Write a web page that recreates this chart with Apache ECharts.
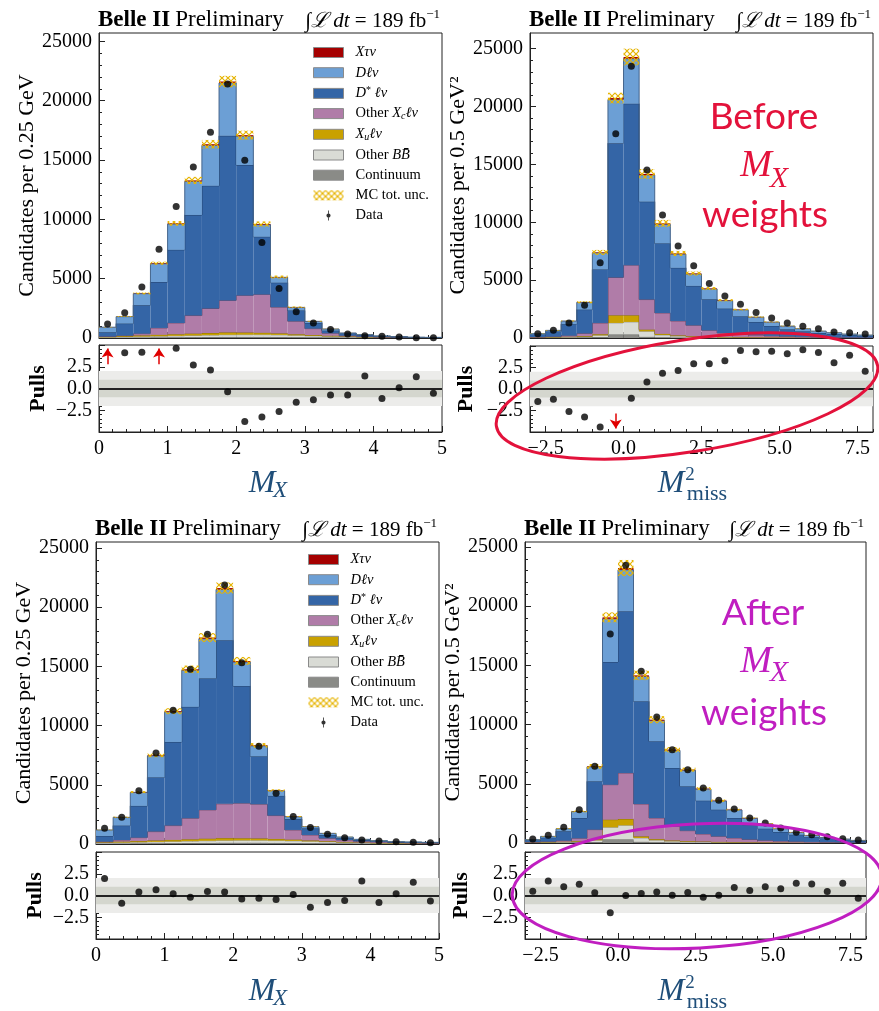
<!DOCTYPE html>
<html>
<head>
<meta charset="utf-8">
<script src="https://cdn.jsdelivr.net/npm/echarts@6/dist/echarts.min.js"></script>
<style>
  html, body { margin: 0; padding: 0; background: #fff; }
  #main { width: 879px; height: 1011px; }
</style>
</head>
<body>
<div id="main"></div>
<script>
// bin edges and tick labels
const mxEdges = [0, 0.25, 0.5, 0.75, 1, 1.25, 1.5, 1.75, 2, 2.25, 2.5, 2.75, 3, 3.25, 3.5, 3.75, 4, 4.25, 4.5, 4.75, 5];
const mmEdges = [-3, -2.5, -2, -1.5, -1, -0.5, 0, 0.5, 1, 1.5, 2, 2.5, 3, 3.5, 4, 4.5, 5, 5.5, 6, 6.5, 7, 7.5, 8];
const mmTicks = [-2.5, 0, 2.5, 5, 7.5];
const yTicks = [0, 5000, 10000, 15000, 20000, 25000];
const pullTicks = [-2.5, 0, 2.5];

// M_X, before weights
const mxB_cont = [20, 30, 40, 50, 60, 70, 80, 90, 90, 90, 80, 70, 60, 50, 40, 30, 20, 15, 10, 5];
const mxB_bb   = [40, 60, 80, 100, 120, 140, 160, 180, 190, 190, 180, 150, 120, 90, 60, 40, 30, 20, 10, 10];
const mxB_xu   = [60, 80, 100, 120, 140, 160, 180, 200, 180, 160, 130, 100, 70, 50, 40, 20, 10, 10, 5, 5];
const mxB_xc   = [10, 30, 147, 577, 951, 1523, 2066, 2694, 3128, 3232, 2209, 1092, 541, 210, 60, 30, 20, 10, 5, 5];
const mxB_dst  = [360, 1015, 2401, 3871, 6159, 8475, 10340, 13871, 10989, 4860, 2062, 905, 480, 221, 180, 130, 70, 40, 25, 20];
const mxB_d    = [419, 583, 969, 1542, 2171, 2829, 3403, 4456, 2424, 1023, 451, 262, 131, 137, 41, 30, 19, 9, 5, 5];
const mxB_tau  = [5, 10, 20, 40, 60, 80, 100, 120, 90, 50, 30, 20, 10, 5, 3, 2, 1, 1, 0, 0];
const mxB_unc  = [20, 40, 80, 130, 200, 300, 360, 480, 380, 220, 120, 60, 35, 20, 10, 8, 5, 3, 2, 2];
const mxB_data = [1187, 2119, 4294, 7486, 11074, 14408, 17346, 21413, 14973, 8051, 4181, 2204, 1271, 706, 339, 198, 141, 85, 28, 28];
const mxB_pull = [5.1, 4.12, 4.17, 6.0, 4.62, 2.69, 2.12, -0.38, -3.78, -3.29, -2.65, -1.59, -1.29, -0.76, -0.76, 1.44, -1.14, 0.08, 1.36, -0.56];
const mxB_arrows = [[0.125, 2.8, 4.6], [0.875, 2.8, 4.6]];

// M_miss^2, before weights
const mmB_cont = [20, 30, 40, 60, 80, 300, 300, 100, 60, 40, 30, 25, 20, 15, 10, 10, 8, 6, 5, 5, 4, 3];
const mmB_bb   = [30, 40, 50, 70, 150, 1000, 1086, 477, 200, 120, 80, 60, 45, 35, 30, 25, 20, 15, 12, 10, 8, 6];
const mmB_xu   = [10, 15, 20, 40, 100, 663, 577, 145, 100, 70, 50, 40, 30, 25, 20, 15, 10, 8, 6, 5, 4, 3];
const mmB_xc   = [20, 35, 90, 230, 969, 3263, 4331, 2598, 1805, 1242, 937, 539, 338, 243, 190, 130, 102, 71, 57, 40, 34, 28];
const mmB_dst  = [220, 440, 1000, 2054, 4619, 11606, 13944, 8459, 6005, 4591, 3407, 2685, 2108, 1559, 1136, 859, 611, 477, 353, 290, 210, 160];
const mmB_d    = [73, 100, 264, 620, 1433, 3777, 3892, 2296, 1652, 1181, 1018, 884, 691, 552, 413, 332, 276, 221, 165, 106, 81, 56];
const mmB_tau  = [2, 4, 8, 15, 40, 120, 150, 100, 80, 60, 50, 40, 30, 25, 20, 15, 12, 10, 8, 6, 5, 4];
const mmB_unc  = [15, 25, 45, 90, 220, 460, 720, 420, 300, 220, 170, 130, 100, 75, 55, 45, 35, 25, 20, 15, 12, 10];
const mmB_data = [375, 664, 1299, 2829, 6496, 17640, 23472, 14522, 10624, 7939, 6236, 4706, 3638, 2916, 2194, 1732, 1299, 1010, 808, 520, 462, 346];
const mmB_pull = [-1.46, -1.19, -2.61, -3.26, -4.41, -6.0, -1.08, 0.80, 1.84, 2.14, 2.95, 2.95, 3.29, 4.48, 4.32, 4.40, 4.09, 4.55, 4.25, 3.06, 3.91, 2.07];
const mmB_arrows = [[-0.25, -2.85, -4.6]];

// M_X, after weights
const mxA_cont = [30, 40, 50, 60, 70, 80, 90, 100, 100, 100, 90, 80, 70, 60, 50, 40, 30, 25, 20, 15];
const mxA_bb   = [60, 80, 100, 120, 140, 160, 180, 200, 210, 210, 200, 180, 150, 120, 90, 60, 45, 35, 25, 20];
const mxA_xu   = [60, 80, 100, 120, 140, 160, 180, 200, 180, 160, 140, 110, 80, 60, 40, 25, 15, 10, 5, 5];
const mxA_xc   = [50, 140, 287, 745, 1204, 1775, 2431, 2890, 2956, 2892, 1971, 817, 463, 240, 160, 105, 80, 60, 50, 40];
const mxA_dst  = [478, 1214, 2684, 4577, 7062, 9408, 11103, 13814, 9888, 4039, 1667, 932, 565, 283, 160, 110, 60, 40, 40, 30];
const mxA_d    = [504, 696, 1138, 1824, 2539, 3084, 3346, 4287, 2029, 883, 422, 178, 131, 136, 90, 54, 52, 27, 30, 31];
const mxA_tau  = [5, 10, 20, 40, 60, 80, 100, 120, 90, 50, 30, 20, 10, 5, 3, 2, 1, 1, 0, 0];
const mxA_unc  = [25, 50, 90, 160, 250, 320, 380, 470, 340, 190, 100, 50, 30, 20, 12, 8, 6, 4, 3, 3];
const mxA_data = [1328, 2260, 4492, 7684, 11300, 14747, 17712, 21865, 15312, 8249, 4294, 2317, 1384, 819, 537, 339, 254, 198, 141, 113];
const mxA_pull = [1.94, -0.89, 0.39, 0.66, 0.19, -0.19, 0.47, 0.39, -0.39, -0.31, -0.47, 0.12, -1.36, -0.81, -0.58, 1.67, -0.81, 0.19, 1.51, -0.62];

// M_miss^2, after weights
const mmA_cont = [20, 30, 40, 60, 80, 300, 300, 100, 60, 40, 30, 25, 20, 15, 10, 10, 8, 6, 5, 5, 4, 3];
const mmA_bb   = [30, 40, 50, 70, 150, 1023, 1192, 322, 180, 110, 80, 60, 45, 35, 30, 25, 20, 15, 12, 10, 8, 6];
const mmA_xu   = [10, 15, 20, 40, 100, 647, 535, 141, 90, 65, 50, 40, 30, 25, 20, 15, 10, 8, 6, 5, 4, 3];
const mmA_xc   = [20, 35, 90, 230, 800, 2956, 3884, 2731, 1781, 1193, 882, 635, 468, 347, 240, 170, 122, 91, 67, 50, 39, 28];
const mmA_dst  = [150, 330, 800, 1711, 4078, 10359, 13653, 8670, 6475, 4926, 3744, 2815, 2252, 1689, 1248, 990, 769, 580, 410, 310, 215, 140];
const mmA_d    = [50, 109, 202, 548, 1226, 3652, 3509, 2095, 1750, 1488, 1357, 974, 730, 679, 543, 408, 269, 191, 139, 93, 63, 41];
const mmA_tau  = [2, 4, 8, 15, 40, 120, 150, 100, 80, 60, 50, 40, 30, 25, 20, 15, 12, 10, 8, 6, 5, 4];
const mmA_unc  = [10, 20, 40, 80, 200, 420, 680, 400, 300, 220, 170, 130, 100, 75, 55, 45, 35, 25, 20, 15, 12, 10];
const mmA_data = [338, 647, 1323, 2815, 6474, 17650, 23448, 14497, 10641, 7882, 6193, 4645, 3604, 2871, 2111, 1689, 1267, 901, 704, 535, 366, 253];
const mmA_pull = [0.50, 1.67, 1.01, 1.28, 0.31, -1.98, 0.0, 0.23, 0.39, 0.04, 0.35, -0.19, 0.04, 0.93, 0.58, 1.01, 0.78, 1.40, 1.32, 0.47, 1.40, -0.31];

const SERIF = '"Liberation Serif", "DejaVu Serif", serif';

// stack order, bottom to top
const comps = [
  { key: 'cont', name: 'Continuum',  fill: '#8a8b87', edge: '#5d5e5a' },
  { key: 'bb',   name: 'Other BB̄',   fill: '#d9dbd5', edge: '#9d9f99' },
  { key: 'xu',   name: 'Xuℓν',       fill: '#c9a100', edge: '#8a6f00' },
  { key: 'xc',   name: 'Other Xcℓν', fill: '#b07ca8', edge: '#6e4a68' },
  { key: 'dst',  name: 'D*ℓν',       fill: '#3465a6', edge: '#22406a' },
  { key: 'd',    name: 'Dℓν',        fill: '#6c9fd5', edge: '#45658c' },
  { key: 'tau',  name: 'Xτν',        fill: '#a50000', edge: null }
];

// gold cross-hatch for the MC uncertainty
const hatchCanvas = document.createElement('canvas');
hatchCanvas.width = 6; hatchCanvas.height = 6;
const hctx = hatchCanvas.getContext('2d');
hctx.strokeStyle = '#e6b400';
hctx.lineWidth = 1.2;
hctx.beginPath();
hctx.moveTo(0, 0); hctx.lineTo(6, 6);
hctx.moveTo(6, 0); hctx.lineTo(0, 6);
hctx.stroke();
const hatch = { image: hatchCanvas, repeat: 'repeat' };

const option = {
  animation: false,
  grid: [], xAxis: [], yAxis: [], series: [], title: [], legend: [], graphic: []
};

function labelStyle() { return { color: '#000', fontFamily: SERIF, fontSize: 20, margin: 7 }; }
function axLine() { return { color: '#222', width: 1 }; }

function fmtNum(v) {
  const s = Math.abs(v).toFixed(1);
  return v < 0 ? '\u2212' + s : s;
}

function range(a, b, step) {
  const out = [];
  for (let v = a; v <= b + 1e-9; v += step) out.push(Math.round(v * 1000) / 1000);
  return out;
}

function addXAxes(gridIndex, isMx, withLabels) {
  if (isMx) {
    option.xAxis.push({
      gridIndex, type: 'value', min: 0, max: 5, interval: 1, position: 'bottom',
      splitLine: { show: false },
      axisLine: { show: true, onZero: false, lineStyle: axLine() },
      axisTick: { show: true, inside: true, length: 6, lineStyle: axLine() },
      minorTick: { show: true, splitNumber: 5, length: 3, lineStyle: axLine() },
      axisLabel: withLabels ? Object.assign({ formatter: v => String(v) }, labelStyle()) : { show: false }
    });
    return option.xAxis.length - 1;
  }
  option.xAxis.push({
    gridIndex, type: 'value', min: -3, max: 8, position: 'bottom',
    splitLine: { show: false },
    axisLine: { show: true, onZero: false, lineStyle: axLine() },
    axisTick: { show: true, inside: true, length: 6, customValues: mmTicks, lineStyle: axLine() },
    axisLabel: withLabels ? Object.assign({ customValues: mmTicks, formatter: fmtNum }, labelStyle()) : { show: false }
  });
  const idx = option.xAxis.length - 1;
  // minor ticks every 0.5
  option.xAxis.push({
    gridIndex, type: 'value', min: -3, max: 8, position: 'bottom',
    splitLine: { show: false },
    axisLine: { show: false, onZero: false },
    axisTick: { show: true, inside: true, length: 3, customValues: range(-3, 8, 0.5), lineStyle: axLine() },
    axisLabel: { show: false }
  });
  return idx;
}

// one custom series per component: filled bin + stepped top outline
function histSeries(name, edges, lo, hi, fill, edge, xi, yi) {
  const rows = lo.map((l, i) => [edges[i], edges[i + 1], l, hi[i], i > 0 ? hi[i - 1] : hi[i]]);
  return {
    type: 'custom', name, xAxisIndex: xi, yAxisIndex: yi, data: rows,
    encode: { x: [0, 1], y: [2, 3] }, color: fill, silent: true, z: 2, clip: true,
    renderItem: (params, api) => {
      const a = api.coord([api.value(0), api.value(3)]);
      const b = api.coord([api.value(1), api.value(2)]);
      const prev = api.coord([api.value(0), api.value(4)]);
      const children = [{
        type: 'rect', shape: { x: a[0], y: a[1], width: b[0] - a[0], height: b[1] - a[1] },
        style: { fill, stroke: null }
      }];
      if (edge) {
        children.push({
          type: 'polyline', shape: { points: [[a[0], prev[1]], [a[0], a[1]], [b[0], a[1]]] },
          style: { stroke: edge, lineWidth: 1, fill: null }
        });
      }
      return { type: 'group', children };
    }
  };
}

function gridBox(r) {
  return { left: r[0], top: r[1], width: r[2], height: r[3], show: true, borderColor: '#222', borderWidth: 1,
    containLabel: false, outerBoundsMode: 'none' };
}

function addPanel(p) {
  const isMx = p.edges === mxEdges;
  const centers = p.edges.slice(0, -1).map((e, i) => (e + p.edges[i + 1]) / 2);

  option.grid.push(gridBox(p.mainBox));
  const gMain = option.grid.length - 1;
  option.grid.push(gridBox(p.pullBox));
  const gPull = option.grid.length - 1;

  const xMain = addXAxes(gMain, isMx, false);
  const xPull = addXAxes(gPull, isMx, true);

  option.yAxis.push({
    gridIndex: gMain, type: 'value', min: 0, max: p.ymax, position: 'left',
    name: p.yName, nameLocation: 'middle', nameGap: p.yGap, nameRotate: 90,
    nameTextStyle: { fontFamily: SERIF, fontSize: 22, color: '#000' },
    splitLine: { show: false },
    axisLine: { show: true, onZero: false, lineStyle: axLine() },
    axisTick: { show: true, inside: true, length: 6, customValues: yTicks, lineStyle: axLine() },
    axisLabel: Object.assign({ customValues: yTicks, formatter: v => String(v) }, labelStyle())
  });
  const yMain = option.yAxis.length - 1;
  option.yAxis.push({
    gridIndex: gMain, type: 'value', min: 0, max: p.ymax, position: 'left',
    splitLine: { show: false }, axisLine: { show: false, onZero: false }, axisLabel: { show: false },
    axisTick: { show: true, inside: true, length: 3, customValues: range(0, 25000, 1000), lineStyle: axLine() }
  });
  option.yAxis.push({
    gridIndex: gPull, type: 'value', min: -5, max: 5, interval: 2.5, position: 'left',
    name: 'Pulls', nameLocation: 'middle', nameGap: p.yGap, nameRotate: 90,
    nameTextStyle: { fontFamily: SERIF, fontSize: 22, fontWeight: 'bold', color: '#000' },
    splitLine: { show: false },
    axisLine: { show: true, onZero: false, lineStyle: axLine() },
    axisTick: { show: true, inside: true, length: 6, lineStyle: axLine() },
    minorTick: { show: true, splitNumber: 5, length: 3, lineStyle: axLine() },
    axisLabel: Object.assign({ customValues: pullTicks, formatter: fmtNum }, labelStyle())
  });
  const yPull = option.yAxis.length - 1;

  // stacked histograms: cumulative sums built from the component arrays
  let lower = centers.map(() => 0);
  comps.forEach((c, k) => {
    const upper = lower.map((v, i) => v + p.comps[k][i]);
    option.series.push(histSeries(c.name, p.edges, lower, upper, c.fill, c.edge, xMain, yMain));
    lower = upper;
  });
  const totals = lower;

  // MC total uncertainty band
  option.series.push({
    type: 'custom', name: 'MC tot. unc.', xAxisIndex: xMain, yAxisIndex: yMain,
    data: totals.map((t, i) => [p.edges[i], p.edges[i + 1], t - p.unc[i], t + p.unc[i]]),
    encode: { x: [0, 1], y: [2, 3] },
    color: '#e6b400', silent: true, z: 3,
    renderItem: (params, api) => {
      const a = api.coord([api.value(0), api.value(3)]);
      const b = api.coord([api.value(1), api.value(2)]);
      return { type: 'rect', shape: { x: a[0], y: a[1], width: b[0] - a[0], height: b[1] - a[1] },
        style: { fill: hatch, stroke: null } };
    }
  });

  // data points
  option.series.push({
    type: 'scatter', name: 'Data', xAxisIndex: xMain, yAxisIndex: yMain,
    data: centers.map((x, i) => [x, p.data[i]]),
    symbol: 'circle', symbolSize: 7, itemStyle: { color: '#000' }, silent: true, z: 5
  });

  // pulls
  const markLines = [{ yAxis: 0, lineStyle: { color: '#222', width: 2, type: 'solid' } }];
  (p.arrows || []).forEach(a => {
    markLines.push([
      { coord: [a[0], a[1]], symbol: 'none', lineStyle: { color: '#e00000', width: 1.5, type: 'solid' } },
      { coord: [a[0], a[2]], symbol: 'arrow' }
    ]);
  });
  option.series.push({
    type: 'scatter', name: 'pulls' + gPull, xAxisIndex: xPull, yAxisIndex: yPull,
    data: centers.map((x, i) => [x, p.pulls[i]]), clip: true,
    symbol: 'circle', symbolSize: 7, itemStyle: { color: '#000' }, silent: true, z: 5,
    markArea: {
      silent: true,
      data: [
        [{ yAxis: -2, itemStyle: { color: '#ececea' } }, { yAxis: 2 }],
        [{ yAxis: -1, itemStyle: { color: '#d4d6ce' } }, { yAxis: 1 }]
      ]
    },
    markLine: { silent: true, symbol: ['none', 'none'], symbolSize: 9, label: { show: false }, data: markLines }
  });

  // header text
  const headRich = {
    b: { fontFamily: SERIF, fontSize: 23, fontWeight: 'bold', color: '#000' },
    r: { fontFamily: SERIF, fontSize: 23, fontWeight: 'normal', color: '#000' },
    i: { fontFamily: SERIF, fontSize: 21, fontWeight: 'normal', fontStyle: 'italic', color: '#000' },
    l: { fontFamily: SERIF, fontSize: 21, fontWeight: 'normal', color: '#000' },
    sup: { fontFamily: SERIF, fontSize: 13, fontWeight: 'normal', color: '#000', verticalAlign: 'top', lineHeight: 13 }
  };
  const mb = p.mainBox;
  option.title.push({
    text: '{b|Belle II} {r|Preliminary}', left: mb[0] - 1, top: mb[1] - 26,
    padding: 0, textStyle: { rich: headRich, lineHeight: 26, fontWeight: 'normal' }
  });
  option.title.push({
    text: '{l|\u222B}{i|\u2112 dt}{l| = 189 fb}{sup|\u22121}', right: 879 - (mb[0] + mb[2]) + 2, top: mb[1] - 25,
    padding: 0, textStyle: { rich: headRich, lineHeight: 26, fontWeight: 'normal' }
  });

  if (p.legend) {
    const legendRich = {
      r: { fontFamily: SERIF, fontSize: 14.5, color: '#000', lineHeight: 16 },
      i: { fontFamily: SERIF, fontSize: 14.5, fontStyle: 'italic', color: '#000', lineHeight: 16 },
      sub: { fontFamily: SERIF, fontSize: 10, fontStyle: 'italic', color: '#000', verticalAlign: 'bottom', lineHeight: 11 },
      sup: { fontFamily: SERIF, fontSize: 10, color: '#000', verticalAlign: 'top', lineHeight: 10 }
    };
    const legendText = {
      'Xτν': '{i|Xτν}',
      'Dℓν': '{i|Dℓν}',
      'D*ℓν': '{i|D}{sup|*}{i| ℓν}',
      'Other Xcℓν': '{r|Other }{i|X}{sub|c}{i|ℓν}',
      'Xuℓν': '{i|X}{sub|u}{i|ℓν}',
      'Other BB̄': '{r|Other }{i|BB̄}',
      'Continuum': '{r|Continuum}',
      'MC tot. unc.': '{r|MC tot. unc.}',
      'Data': '{r|Data}'
    };
    const items = comps.slice().reverse().map(c => ({
      name: c.name, icon: 'rect',
      itemStyle: { color: c.fill, borderColor: '#8a8a8a', borderWidth: 1 }
    }));
    items.push({ name: 'MC tot. unc.', icon: 'rect', itemStyle: { color: hatch, borderWidth: 0 } });
    items.push({ name: 'Data', icon: 'path://M5,0 L7,0 L7,24 L5,24 Z M6,7 A5,5 0 1,1 6,17 A5,5 0 1,1 6,7 Z',
      itemStyle: { color: '#000', borderWidth: 0 } });
    option.legend.push({
      orient: 'vertical', left: p.legend[0], top: p.legend[1], padding: 0,
      itemWidth: 30, itemHeight: 10, itemGap: 5.2, selectedMode: false,
      data: items,
      formatter: name => legendText[name],
      textStyle: { fontFamily: SERIF, fontSize: 14.5, color: '#000', padding: [0, 0, 0, 7], rich: legendRich }
    });
  }
}

addPanel({
  edges: mxEdges, mainBox: [99, 33, 343, 305], pullBox: [99, 345, 343, 87], ymax: 25700,
  yName: 'Candidates per 0.25 GeV', yGap: 50,
  comps: [mxB_cont, mxB_bb, mxB_xu, mxB_xc, mxB_dst, mxB_d, mxB_tau],
  unc: mxB_unc, data: mxB_data, pulls: mxB_pull, arrows: mxB_arrows, legend: [313, 45]
});
addPanel({
  edges: mmEdges, mainBox: [530, 33, 343, 305], pullBox: [530, 346, 343, 86], ymax: 26350,
  yName: 'Candidates per 0.5 GeV\u00B2', yGap: 53,
  comps: [mmB_cont, mmB_bb, mmB_xu, mmB_xc, mmB_dst, mmB_d, mmB_tau],
  unc: mmB_unc, data: mmB_data, pulls: mmB_pull, arrows: mmB_arrows
});
addPanel({
  edges: mxEdges, mainBox: [96, 542, 343, 302], pullBox: [96, 852, 343, 87], ymax: 25500,
  yName: 'Candidates per 0.25 GeV', yGap: 50,
  comps: [mxA_cont, mxA_bb, mxA_xu, mxA_xc, mxA_dst, mxA_d, mxA_tau],
  unc: mxA_unc, data: mxA_data, pulls: mxA_pull, legend: [308, 552]
});
addPanel({
  edges: mmEdges, mainBox: [525, 542, 341, 301], pullBox: [525, 852, 341, 87], ymax: 25420,
  yName: 'Candidates per 0.5 GeV\u00B2', yGap: 53,
  comps: [mmA_cont, mmA_bb, mmA_xu, mmA_xc, mmA_dst, mmA_d, mmA_tau],
  unc: mmA_unc, data: mmA_data, pulls: mmA_pull
});

// annotations
const RED = '#e3123b';
const MAG = '#c01ec0';
const NAVY = '#1f4e79';
function txt(text, x, y, font, fill) {
  return { type: 'text', x, y, z: 100, silent: true,
    style: { text, font, fill, align: 'center', verticalAlign: 'middle', textAlign: 'center', textVerticalAlign: 'middle' } };
}
const sansBig = '37px Lato, "Open Sans", sans-serif';
const mathBig = 'italic 38px ' + SERIF;
const mathSub = 'italic 30px ' + SERIF;
option.graphic = [
  txt('Before', 764, 117, sansBig, RED),
  txt('M', 756, 166, mathBig, RED),
  txt('X', 779, 179, mathSub, RED),
  txt('weights', 765, 215, sansBig, RED),
  txt('After', 763, 613, sansBig, MAG),
  txt('M', 756, 662, mathBig, MAG),
  txt('X', 779, 673, mathSub, MAG),
  txt('weights', 764, 713, sansBig, MAG),

  txt('M', 262, 484, 'italic 32px ' + SERIF, NAVY),
  txt('X', 280, 491, 'italic 23px ' + SERIF, NAVY),
  txt('M', 671, 484, 'italic 32px ' + SERIF, NAVY),
  txt('2', 690, 475, '19px ' + SERIF, NAVY),
  txt('miss', 707, 494, '22px ' + SERIF, NAVY),
  txt('M', 262, 992, 'italic 32px ' + SERIF, NAVY),
  txt('X', 280, 999, 'italic 23px ' + SERIF, NAVY),
  txt('M', 671, 992, 'italic 32px ' + SERIF, NAVY),
  txt('2', 690, 983, '19px ' + SERIF, NAVY),
  txt('miss', 707, 1002, '22px ' + SERIF, NAVY),

  { type: 'ellipse', x: 687, y: 396, rotation: 9 * Math.PI / 180, z: 100, silent: true,
    shape: { cx: 0, cy: 0, rx: 193, ry: 56 }, style: { fill: null, stroke: RED, lineWidth: 3 } },
  { type: 'ellipse', x: 697, y: 886, rotation: 3 * Math.PI / 180, z: 100, silent: true,
    shape: { cx: 0, cy: 0, rx: 185, ry: 62 }, style: { fill: null, stroke: MAG, lineWidth: 3 } }
];

const chart = echarts.init(document.getElementById('main'), null, { renderer: 'canvas' });
chart.setOption(option);
</script>
</body>
</html>
